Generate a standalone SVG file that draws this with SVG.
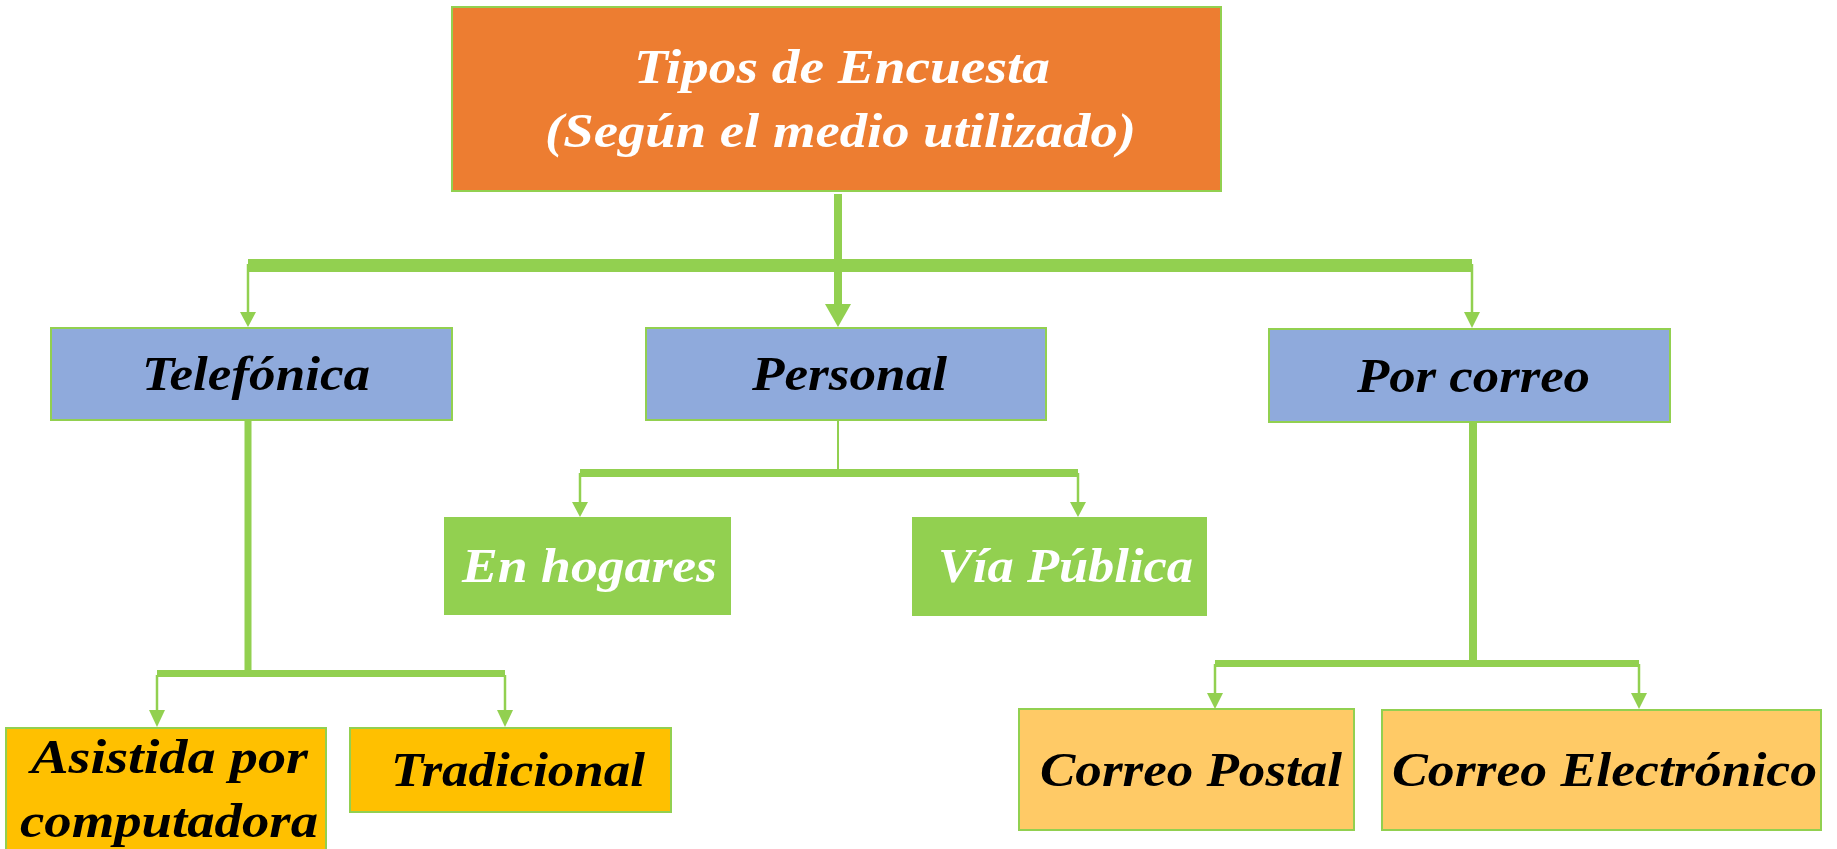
<svg xmlns="http://www.w3.org/2000/svg" width="1837" height="849" viewBox="0 0 1837 849">
<style>
.box{stroke:#92D050;stroke-width:2}
.t{font-family:"Liberation Serif","Times New Roman",serif;font-style:italic;font-weight:bold;font-size:49px}
.w{fill:#FFFFFF}
.k{fill:#000000}
.c{fill:#92D050;stroke:none}
.ln{stroke:#92D050;fill:none}
</style>
<rect width="1837" height="849" fill="#FFFFFF"/>
<g id="connectors">
<line class="ln" x1="838" y1="194" x2="838" y2="306" stroke-width="8"/>
<rect class="c" x="248" y="259" width="1224" height="13"/>
<polygon class="c" points="825,304 851,304 838,327"/>
<line class="ln" x1="248" y1="264" x2="248" y2="313" stroke-width="2.5"/>
<polygon class="c" points="240,312 256,312 248,327"/>
<line class="ln" x1="1472" y1="264" x2="1472" y2="313" stroke-width="2.5"/>
<polygon class="c" points="1464,312 1480,312 1472,328"/>
<line class="ln" x1="248" y1="420" x2="248" y2="672" stroke-width="7"/>
<rect class="c" x="157" y="670" width="348" height="7"/>
<line class="ln" x1="157" y1="675" x2="157" y2="712" stroke-width="2.5"/>
<polygon class="c" points="149,710 165,710 157,727"/>
<line class="ln" x1="505" y1="675" x2="505" y2="712" stroke-width="2.5"/>
<polygon class="c" points="497,710 513,710 505,727"/>
<line class="ln" x1="838" y1="421" x2="838" y2="470" stroke-width="2"/>
<rect class="c" x="580" y="469" width="498" height="8"/>
<line class="ln" x1="580" y1="473" x2="580" y2="503" stroke-width="2.5"/>
<polygon class="c" points="572,502 588,502 580,517"/>
<line class="ln" x1="1078" y1="473" x2="1078" y2="503" stroke-width="2.5"/>
<polygon class="c" points="1070,502 1086,502 1078,517"/>
<line class="ln" x1="1473" y1="422" x2="1473" y2="663" stroke-width="8"/>
<rect class="c" x="1215" y="660" width="424" height="7"/>
<line class="ln" x1="1215" y1="664" x2="1215" y2="694" stroke-width="2.5"/>
<polygon class="c" points="1207,693 1223,693 1215,709"/>
<line class="ln" x1="1639" y1="664" x2="1639" y2="694" stroke-width="2.5"/>
<polygon class="c" points="1631,693 1647,693 1639,709"/>
</g>
<g id="n-tipos">
<rect class="box" x="452" y="7" width="769" height="184" fill="#ED7D31"/>
<text class="t w" x="634" y="83" textLength="416" lengthAdjust="spacingAndGlyphs">Tipos de Encuesta</text>
<text class="t w" x="545" y="147" textLength="591" lengthAdjust="spacingAndGlyphs">(Según el medio utilizado)</text>
</g>
<g id="n-telefonica">
<rect class="box" x="51" y="328" width="401" height="92" fill="#8FAADC"/>
<text class="t k" x="142" y="390" textLength="228" lengthAdjust="spacingAndGlyphs">Telefónica</text>
</g>
<g id="n-personal">
<rect class="box" x="646" y="328" width="400" height="92" fill="#8FAADC"/>
<text class="t k" x="752" y="390" textLength="195" lengthAdjust="spacingAndGlyphs">Personal</text>
</g>
<g id="n-porcorreo">
<rect class="box" x="1269" y="329" width="401" height="93" fill="#8FAADC"/>
<text class="t k" x="1357" y="392" textLength="233" lengthAdjust="spacingAndGlyphs">Por correo</text>
</g>
<g id="n-hogares">
<rect x="444" y="517" width="287" height="98" fill="#92D050"/>
<text class="t w" x="462" y="582" textLength="255" lengthAdjust="spacingAndGlyphs">En hogares</text>
</g>
<g id="n-viapublica">
<rect x="912" y="517" width="295" height="99" fill="#92D050"/>
<text class="t w" x="938" y="582" textLength="255" lengthAdjust="spacingAndGlyphs">Vía Pública</text>
</g>
<g id="n-asistida">
<rect class="box" x="6" y="728" width="320" height="125" fill="#FFC000"/>
<text class="t k" x="31" y="773" textLength="277" lengthAdjust="spacingAndGlyphs">Asistida por</text>
<text class="t k" x="20" y="837" textLength="298" lengthAdjust="spacingAndGlyphs">computadora</text>
</g>
<g id="n-tradicional">
<rect class="box" x="350" y="728" width="321" height="84" fill="#FFC000"/>
<text class="t k" x="391" y="786" textLength="254" lengthAdjust="spacingAndGlyphs">Tradicional</text>
</g>
<g id="n-postal">
<rect class="box" x="1019" y="709" width="335" height="121" fill="#FFCA66"/>
<text class="t k" x="1040" y="786" textLength="302" lengthAdjust="spacingAndGlyphs">Correo Postal</text>
</g>
<g id="n-electronico">
<rect class="box" x="1382" y="710" width="439" height="120" fill="#FFCA66"/>
<text class="t k" x="1392" y="786" textLength="425" lengthAdjust="spacingAndGlyphs">Correo Electrónico</text>
</g>
</svg>
